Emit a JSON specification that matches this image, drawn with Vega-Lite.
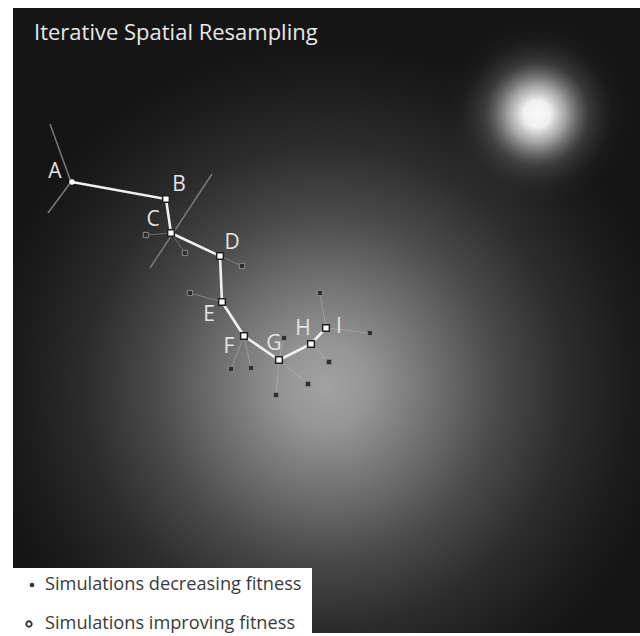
{
  "$schema": "https://vega.github.io/schema/vega-lite/v6.json",
  "width": 640,
  "height": 636,
  "autosize": {"type": "fit", "contains": "padding"},
  "padding": 0,
  "background": "white",
  "config": {"view": {"stroke": null}},
  "datasets": {
    "frame": [{"x": 13, "y": 8, "x2": 640, "y2": 633}],
    "spot": [{"x": 442, "y": 19, "x2": 632, "y2": 209}],
    "dirs": [
      {"x": 50, "y": 124, "x2": 71, "y2": 182},
      {"x": 71, "y": 182, "x2": 48, "y2": 213},
      {"x": 212, "y": 174, "x2": 150, "y2": 268}
    ],
    "path": [
      {"step": 1, "label": "A", "x": 72, "y": 182, "lx": 55, "ly": 172},
      {"step": 2, "label": "B", "x": 166, "y": 199, "lx": 179, "ly": 185},
      {"step": 3, "label": "C", "x": 171, "y": 233, "lx": 153, "ly": 220},
      {"step": 4, "label": "D", "x": 220, "y": 256, "lx": 232, "ly": 243},
      {"step": 5, "label": "E", "x": 222, "y": 302, "lx": 209, "ly": 315},
      {"step": 6, "label": "F", "x": 244, "y": 336, "lx": 229, "ly": 347},
      {"step": 7, "label": "G", "x": 279, "y": 360, "lx": 274, "ly": 344},
      {"step": 8, "label": "H", "x": 311, "y": 344, "lx": 303, "ly": 329},
      {"step": 9, "label": "I", "x": 326, "y": 328, "lx": 339, "ly": 327}
    ],
    "sims": [
      {"x": 146, "y": 235, "x2": 171, "y2": 233},
      {"x": 185, "y": 253, "x2": 171, "y2": 233},
      {"x": 242, "y": 266, "x2": 220, "y2": 256},
      {"x": 190, "y": 293, "x2": 222, "y2": 302},
      {"x": 320, "y": 293, "x2": 326, "y2": 328},
      {"x": 370, "y": 333, "x2": 326, "y2": 328},
      {"x": 284, "y": 338, "x2": 279, "y2": 360},
      {"x": 231, "y": 369, "x2": 244, "y2": 336},
      {"x": 251, "y": 368, "x2": 244, "y2": 336},
      {"x": 308, "y": 384, "x2": 279, "y2": 360},
      {"x": 276, "y": 395, "x2": 279, "y2": 360},
      {"x": 329, "y": 362, "x2": 311, "y2": 344}
    ],
    "title": [{"x": 34, "y": 33, "text": "Iterative Spatial Resampling"}],
    "legendBox": [{"x": 13, "y": 568, "x2": 312, "y2": 636}],
    "legendItems": [
      {"kind": "dec", "x": 32, "y": 585, "tx": 45, "text": "Simulations decreasing fitness"},
      {"kind": "imp", "x": 29, "y": 624, "tx": 45, "text": "Simulations improving fitness"}
    ]
  },
  "encoding": {
    "x": {"field": "x", "type": "quantitative", "scale": {"domain": [0, 640], "nice": false, "zero": false}, "axis": null},
    "y": {"field": "y", "type": "quantitative", "scale": {"domain": [0, 636], "nice": false, "zero": false, "reverse": true}, "axis": null}
  },
  "layer": [
    {
      "data": {"name": "frame"},
      "mark": {
        "type": "rect",
        "fill": {
          "gradient": "radial",
          "x1": 0.5, "y1": 0.605, "r1": 0,
          "x2": 0.5, "y2": 0.605, "r2": 0.55,
          "stops": [
            {"offset": 0, "color": "#a2a2a2"},
            {"offset": 0.12, "color": "#969696"},
            {"offset": 0.3, "color": "#727272"},
            {"offset": 0.5, "color": "#4a4a4a"},
            {"offset": 0.7, "color": "#2c2c2c"},
            {"offset": 0.88, "color": "#1c1c1c"},
            {"offset": 1, "color": "#151515"}
          ]
        }
      },
      "encoding": {"x2": {"field": "x2"}, "y2": {"field": "y2"}}
    },
    {
      "data": {"name": "spot"},
      "mark": {
        "type": "rect",
        "fill": {
          "gradient": "radial",
          "x1": 0.5, "y1": 0.5, "r1": 0,
          "x2": 0.5, "y2": 0.5, "r2": 0.5,
          "stops": [
            {"offset": 0, "color": "rgba(250,250,250,1)"},
            {"offset": 0.14, "color": "rgba(240,240,240,1)"},
            {"offset": 0.3, "color": "rgba(200,200,200,0.8)"},
            {"offset": 0.55, "color": "rgba(130,130,130,0.32)"},
            {"offset": 0.8, "color": "rgba(80,80,80,0.08)"},
            {"offset": 1, "color": "rgba(60,60,60,0)"}
          ]
        }
      },
      "encoding": {"x2": {"field": "x2"}, "y2": {"field": "y2"}}
    },
    {
      "data": {"name": "dirs"},
      "mark": {"type": "rule", "color": "#7a7a7a", "strokeWidth": 1.5},
      "encoding": {"x2": {"field": "x2"}, "y2": {"field": "y2"}}
    },
    {
      "data": {"name": "sims"},
      "mark": {"type": "rule", "color": "#d0d0d0", "strokeWidth": 1, "opacity": 0.35},
      "encoding": {"x2": {"field": "x2"}, "y2": {"field": "y2"}}
    },
    {
      "data": {"name": "path"},
      "mark": {"type": "line", "color": "#f0f0f0", "strokeWidth": 2.6},
      "encoding": {"order": {"field": "step", "type": "quantitative"}}
    },
    {
      "data": {"name": "sims"},
      "mark": {"type": "point", "shape": "square", "filled": true, "fill": "#2e2e2e", "stroke": "#8a8a8a", "strokeWidth": 1, "size": 28, "opacity": 1}
    },
    {
      "data": {"name": "path"},
      "transform": [{"filter": "datum.label !== 'A'"}],
      "mark": {"type": "point", "shape": "square", "filled": true, "fill": "#ffffff", "stroke": "#202020", "strokeWidth": 1.5, "size": 45, "opacity": 1}
    },
    {
      "data": {"name": "path"},
      "transform": [{"filter": "datum.label === 'A'"}],
      "mark": {"type": "point", "shape": "circle", "filled": true, "fill": "#ffffff", "size": 30, "opacity": 1}
    },
    {
      "data": {"name": "path"},
      "mark": {"type": "text", "font": "Open Sans", "fontSize": 21, "fontWeight": 500, "color": "#e4e4e4", "align": "center", "baseline": "middle"},
      "encoding": {
        "x": {"field": "lx", "type": "quantitative", "scale": {"domain": [0, 640], "nice": false, "zero": false}, "axis": null},
        "y": {"field": "ly", "type": "quantitative", "scale": {"domain": [0, 636], "nice": false, "zero": false, "reverse": true}, "axis": null},
        "text": {"field": "label"}
      }
    },
    {
      "data": {"name": "title"},
      "mark": {"type": "text", "font": "Open Sans", "fontSize": 22, "color": "#e8e8e8", "align": "left", "baseline": "middle"},
      "encoding": {"text": {"field": "text"}}
    },
    {
      "data": {"name": "legendBox"},
      "mark": {"type": "rect", "fill": "#ffffff"},
      "encoding": {"x2": {"field": "x2"}, "y2": {"field": "y2"}}
    },
    {
      "data": {"name": "legendItems"},
      "transform": [{"filter": "datum.kind === 'dec'"}],
      "mark": {"type": "point", "shape": "circle", "filled": true, "fill": "#333333", "size": 22, "opacity": 1}
    },
    {
      "data": {"name": "legendItems"},
      "transform": [{"filter": "datum.kind === 'imp'"}],
      "mark": {"type": "point", "shape": "circle", "filled": true, "fill": "#ffffff", "stroke": "#333333", "strokeWidth": 1.8, "size": 30, "opacity": 1}
    },
    {
      "data": {"name": "legendItems"},
      "mark": {"type": "text", "font": "Open Sans", "fontSize": 18.2, "color": "#3a3a3a", "align": "left", "baseline": "middle"},
      "encoding": {
        "x": {"field": "tx", "type": "quantitative", "scale": {"domain": [0, 640], "nice": false, "zero": false}, "axis": null},
        "text": {"field": "text"}
      }
    }
  ]
}
